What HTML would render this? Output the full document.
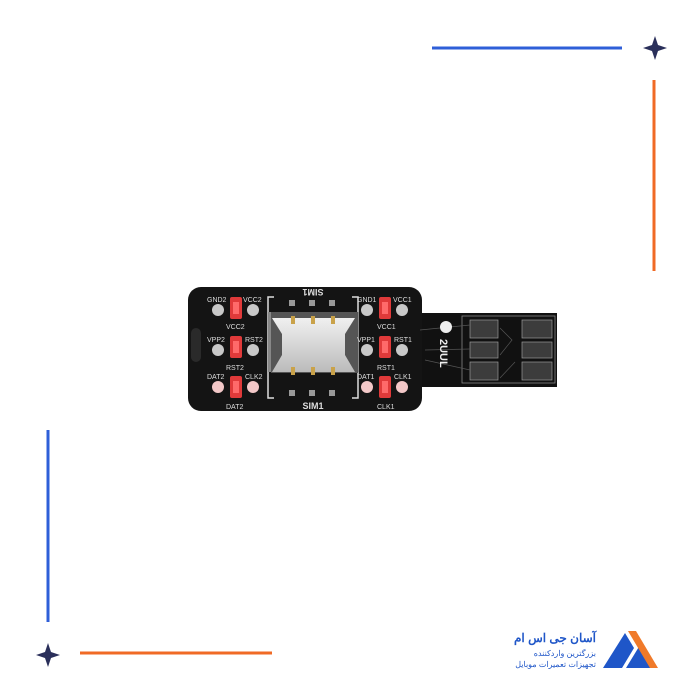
<!DOCTYPE html>
<html><head><meta charset="utf-8"><style>
body{margin:0;background:#fff;width:700px;height:700px;overflow:hidden}
svg{display:block}
</style></head><body>
<svg width="700" height="700" viewBox="0 0 700 700" xmlns="http://www.w3.org/2000/svg" font-family="Liberation Sans, sans-serif">
<line x1="432" y1="48" x2="622" y2="48" stroke="#2f5fd8" stroke-width="3"/>
<path d="M655 36 L658 45 L667 48 L658 51 L655 60 L652 51 L643 48 L652 45Z" fill="#2a2f5a"/>
<line x1="654" y1="80" x2="654" y2="271" stroke="#f06a25" stroke-width="3"/>
<line x1="48" y1="430" x2="48" y2="622" stroke="#2f5fd8" stroke-width="3"/>
<path d="M48 643 L51 652 L60 655 L51 658 L48 667 L45 658 L36 655 L45 652Z" fill="#2a2f5a"/>
<line x1="80" y1="653" x2="272" y2="653" stroke="#f06a25" stroke-width="3"/>
<path d="M603 668 L625 633 L634 648 L622 668Z" fill="#1f56c8"/>
<path d="M626 668 L640 645 L654 668Z" fill="#1f56c8"/>
<path d="M628 631 L636 631 L658 668 L650 668Z" fill="#f07a2a"/>
<text x="596" y="642" font-size="12" font-weight="bold" fill="#1f56c8" text-anchor="end" font-family="Liberation Sans, Noto Sans CJK SC, sans-serif">آسان جی اس ام</text>
<text x="596" y="656" font-size="8" fill="#1f56c8" text-anchor="end" font-family="Liberation Sans, Noto Sans CJK SC, sans-serif">بزرگترین واردکننده</text>
<text x="596" y="667" font-size="8" fill="#1f56c8" text-anchor="end" font-family="Liberation Sans, Noto Sans CJK SC, sans-serif">تجهیزات تعمیرات موبایل</text>
<rect x="412" y="313" width="145" height="74" fill="#111"/>
<rect x="188" y="287" width="234" height="124" rx="13" fill="#141414"/>
<rect x="191" y="328" width="10" height="34" rx="5" fill="#2a2a2a"/>
<rect x="462" y="316" width="93" height="67" fill="none" stroke="#888" stroke-width="0.8"/>
<g fill="#3c3c3c" stroke="#999" stroke-width="0.7">
<rect x="470" y="320" width="28" height="18"/><rect x="522" y="320" width="30" height="18"/>
<rect x="470" y="342" width="28" height="16"/><rect x="522" y="342" width="30" height="16"/>
<rect x="470" y="362" width="28" height="18"/><rect x="522" y="362" width="30" height="18"/>
</g>
<g stroke="#555" stroke-width="0.7" fill="none">
<path d="M420 330 L470 325"/><path d="M425 350 L470 349"/><path d="M425 360 L470 370"/><path d="M500 328 L512 340 L500 355"/><path d="M500 378 L515 362"/>
</g>
<circle cx="446" cy="327" r="6" fill="#eee"/>
<text x="440" y="339" font-size="11" font-weight="bold" fill="#eee" transform="rotate(90 440 339)">2UUL</text>
<path d="M274 297 L268 297 L268 398 L274 398 M352 297 L358 297 L358 398 L352 398" stroke="#ddd" stroke-width="1.5" fill="none"/>
<text x="313" y="297" font-size="9" font-weight="bold" fill="#ddd" text-anchor="middle" transform="rotate(180 313 293)">SIM1</text>
<text x="313" y="409" font-size="9" font-weight="bold" fill="#ddd" text-anchor="middle">SIM1</text>
<g fill="#999"><rect x="289" y="300" width="6" height="6"/><rect x="309" y="300" width="6" height="6"/><rect x="329" y="300" width="6" height="6"/>
<rect x="289" y="390" width="6" height="6"/><rect x="309" y="390" width="6" height="6"/><rect x="329" y="390" width="6" height="6"/></g>
<rect x="268" y="312" width="6" height="60" fill="#888"/><rect x="353" y="312" width="6" height="60" fill="#888"/>
<linearGradient id="m" x1="0" y1="0" x2="0" y2="1"><stop offset="0" stop-color="#f0f0f0"/><stop offset="1" stop-color="#bbb"/></linearGradient>
<path d="M271 312 L358 312 L358 373 L271 373 Z" fill="#555"/>
<path d="M272 318 L355 318 L345 334 L345 355 L355 372 L272 372 L282 355 L282 334 Z" fill="url(#m)"/>
<g fill="#c9a24a"><rect x="291" y="316" width="4" height="8"/><rect x="311" y="316" width="4" height="8"/><rect x="331" y="316" width="4" height="8"/>
<rect x="291" y="367" width="4" height="8"/><rect x="311" y="367" width="4" height="8"/><rect x="331" y="367" width="4" height="8"/></g>
<g id="L">
<circle cx="218" cy="310" r="6" fill="#c8c8c8"/><circle cx="253" cy="310" r="6" fill="#c8c8c8"/>
<circle cx="218" cy="350" r="6" fill="#c8c8c8"/><circle cx="253" cy="350" r="6" fill="#c8c8c8"/>
<circle cx="218" cy="387" r="6" fill="#f3c8c8"/><circle cx="253" cy="387" r="6" fill="#f3c8c8"/>
<rect x="230" y="297" width="12" height="22" rx="2" fill="#e03a3a"/><rect x="233" y="302" width="6" height="12" fill="#ff6a6a"/>
<rect x="230" y="336" width="12" height="22" rx="2" fill="#e03a3a"/><rect x="233" y="341" width="6" height="12" fill="#ff6a6a"/>
<rect x="230" y="376" width="12" height="22" rx="2" fill="#e03a3a"/><rect x="233" y="381" width="6" height="12" fill="#ff6a6a"/>
</g>
<use href="#L" x="149"/>
<g font-size="7" fill="#ddd">
<text x="207" y="302">GND2</text><text x="243" y="302">VCC2</text><text x="226" y="329">VCC2</text>
<text x="207" y="342">VPP2</text><text x="245" y="342">RST2</text><text x="226" y="370">RST2</text>
<text x="207" y="379">DAT2</text><text x="245" y="379">CLK2</text><text x="226" y="409">DAT2</text>
<text x="357" y="302">GND1</text><text x="393" y="302">VCC1</text><text x="377" y="329">VCC1</text>
<text x="357" y="342">VPP1</text><text x="394" y="342">RST1</text><text x="377" y="370">RST1</text>
<text x="357" y="379">DAT1</text><text x="394" y="379">CLK1</text><text x="377" y="409">CLK1</text>
</g>
</svg>
</body></html>
